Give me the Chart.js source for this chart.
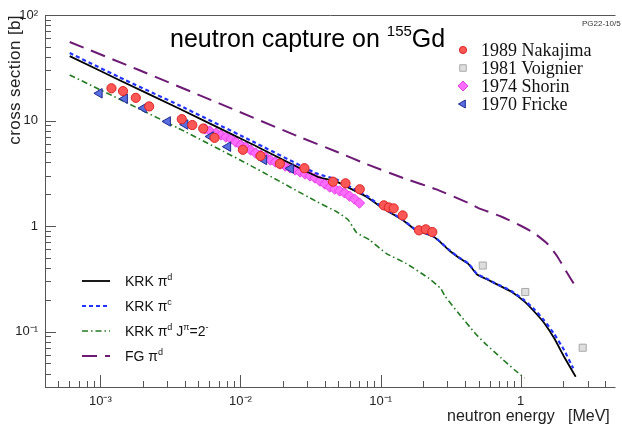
<!DOCTYPE html>
<html>
<head>
<meta charset="utf-8">
<script src="https://cdn.jsdelivr.net/npm/chart.js@4.4.0/dist/chart.umd.min.js"></script>
<style>
  body { margin: 0; background: #fff; }
  #wrap { position: relative; width: 622px; height: 428px; overflow: hidden; background: #fff; }
  #wrap canvas { position: absolute; left: 0; top: 0; }
  .lbl { position: absolute; white-space: nowrap; color: #000; font-family: 'Liberation Sans', Arial, sans-serif; }
  .serif { font-family: 'Liberation Serif', 'Times New Roman', serif; font-size: 18px; line-height: 18px; color: #111; }
  .leg { font-size: 14px; line-height: 14px; color: #111; }
  .leg sup { font-size: 9px; vertical-align: 6px; line-height: 0; }
</style>
</head>
<body>
<div id="wrap">
  <canvas id="chart" width="622" height="428"></canvas>
  <div class="lbl" style="left:170px; top:26px; font-size:25px; line-height:25px;">neutron capture on <span style="font-size:15px; position:relative; top:-11px;">155</span>Gd</div>
  <div class="lbl" style="left:582px; top:20px; font-size:8px; line-height:8px; color:#333;">PG22-10/5</div>

  <div class="lbl serif" style="left:481px; top:41px;">1989 Nakajima</div>
  <div class="lbl serif" style="left:481px; top:59px;">1981 Voignier</div>
  <div class="lbl serif" style="left:481px; top:77px;">1974 Shorin</div>
  <div class="lbl serif" style="left:481px; top:95px;">1970 Fricke</div>

  <div class="lbl leg" style="left:125px; top:274px;">KRK &pi;<sup>d</sup></div>
  <div class="lbl leg" style="left:125px; top:299px;">KRK &pi;<sup>c</sup></div>
  <div class="lbl leg" style="left:125px; top:324px;">KRK &pi;<sup>d</sup> J<sup>&pi;</sup>=2<sup>-</sup></div>
  <div class="lbl leg" style="left:125px; top:349px;">FG &pi;<sup>d</sup></div>

  <div class="lbl" style="left:447px; top:408px; font-size:16px; line-height:16px; color:#222;">neutron energy</div>
  <div class="lbl" style="left:568px; top:408px; font-size:16px; line-height:16px; color:#222;">[MeV]</div>
  <div class="lbl" style="left:6px; top:160px; width:145px; text-align:right; font-size:17px; line-height:17px; letter-spacing:0.4px; color:#222; transform-origin:0 0; transform:rotate(-90deg);">cross section [b]</div>
</div>
<script>
// axis ticks (decades only get labels)
const xTicks = [1e-3, 1e-2, 1e-1, 1];
const yTicks = [0.1, 1, 10, 100];

// KRK pi^d (solid black)
const krkDE = [6.04e-4, 1.36e-3, 3.61e-3, 0.01126, 0.0351, 0.0486, 0.0572, 0.0791, 0.1038, 0.1437, 0.178, 0.234, 0.260, 0.306, 0.360, 0.424, 0.488, 0.587, 0.654, 0.858, 1.065, 1.253, 1.475, 1.735, 2.04, 2.47];
const krkDS = [40.8, 24.2, 13.05, 6.25, 2.945, 2.63, 2.36, 1.90, 1.47, 1.14, 0.916, 0.804, 0.726, 0.592, 0.503, 0.436, 0.347, 0.308, 0.286, 0.238, 0.192, 0.154, 0.120, 0.0862, 0.0577, 0.0373];

// KRK pi^c (blue dashed)
const krkCE = [6.04e-4, 1.36e-3, 3.61e-3, 0.01126, 0.0351, 0.0486, 0.0572, 0.0791, 0.1038, 0.1437, 0.178, 0.234, 0.260, 0.306, 0.360, 0.424, 0.488, 0.587, 0.654, 0.858, 1.065, 1.253, 1.475, 1.735, 2.04, 2.37];
const krkCS = [43.6, 25.8, 14.03, 6.68, 3.145, 2.76, 2.447, 1.946, 1.497, 1.152, 0.926, 0.813, 0.729, 0.599, 0.508, 0.441, 0.351, 0.311, 0.288, 0.242, 0.197, 0.162, 0.127, 0.0946, 0.0668, 0.0448];

// KRK pi^d, J^pi = 2^- only (green dash-dot)
const krkJE = [6.04e-4, 1.36e-3, 3.61e-3, 0.01126, 0.0351, 0.0486, 0.0588, 0.0673, 0.0835, 0.1095, 0.1516, 0.2214, 0.2677, 0.2903, 0.360, 0.473, 0.556, 0.730, 0.906, 1.065];
const krkJS = [27.0, 16.0, 8.44, 3.87, 1.70, 1.366, 1.14, 0.868, 0.737, 0.551, 0.443, 0.319, 0.257, 0.214, 0.149, 0.0962, 0.0773, 0.0557, 0.0432, 0.0362];

// FG pi^d (purple long dash)
const fgE = [6.04e-4, 1.885e-3, 6.20e-3, 0.02537, 0.0486, 0.0791, 0.1516, 0.247, 0.424, 0.499, 0.730, 1.01, 1.253, 1.556, 1.83, 2.154, 2.48];
const fgS = [55.5, 30.1, 15.6, 7.13, 5.06, 3.87, 2.79, 2.24, 1.65, 1.48, 1.225, 1.0, 0.853, 0.675, 0.512, 0.356, 0.264];

// measurements
const nakE = [1.20e-3, 1.45e-3, 1.79e-3, 2.23e-3, 3.81e-3, 4.53e-3, 5.42e-3, 6.53e-3, 1.04e-2, 1.39e-2, 1.91e-2, 2.86e-2, 4.57e-2, 5.62e-2, 7.10e-2, 0.1055, 0.1145, 0.124, 0.1437, 0.188, 0.210, 0.234];
const nakS = [20.2, 19.0, 16.4, 13.6, 10.3, 9.06, 8.39, 6.85, 5.28, 4.61, 3.89, 3.53, 2.63, 2.54, 2.23, 1.57, 1.50, 1.47, 1.26, 0.91, 0.93, 0.877];

const voiE = [0.536, 1.078, 2.77];
const voiS = [0.422, 0.237, 0.0702];

const shoE = [5.60e-3, 6.07e-3, 6.69e-3, 7.26e-3, 7.87e-3, 8.54e-3, 9.26e-3, 1.005e-2, 1.090e-2, 1.182e-2, 1.282e-2, 1.391e-2, 1.509e-2, 1.636e-2, 1.775e-2, 1.925e-2, 2.088e-2, 2.265e-2, 2.457e-2, 2.665e-2, 2.890e-2, 3.134e-2, 3.399e-2, 3.687e-2, 4.000e-2, 4.338e-2, 4.705e-2, 5.102e-2, 5.535e-2, 6.003e-2, 6.512e-2, 7.063e-2];
const shoS = [8.31, 7.95, 7.61, 7.29, 6.98, 6.68, 6.25, 5.86, 5.61, 5.25, 4.92, 4.71, 4.51, 4.22, 4.04, 3.87, 3.70, 3.55, 3.40, 3.25, 3.11, 2.98, 2.85, 2.67, 2.50, 2.34, 2.24, 2.15, 2.06, 1.92, 1.80, 1.65];

const friE = [9.84e-4, 1.49e-3, 2.03e-3, 3.02e-3, 4.03e-3, 6.12e-3, 8.13e-3, 1.47e-2, 2.28e-2];
const friS = [18.1, 16.1, 13.1, 9.79, 9.16, 7.05, 5.65, 4.23, 3.51];

function pts(xs, ys) {
    return xs.map((x, i) => ({ x: x, y: ys[i] }));
}

function powLabel(v) {
    const n = Math.round(Math.log10(v));
    if (n === 0) return '1';
    if (n === 1) return '10';
    const sup = { '-': '\u207B', '0': '\u2070', '1': '\u00B9', '2': '\u00B2', '3': '\u00B3', '4': '\u2074' };
    return '10' + String(n).split('').map(c => sup[c]).join('');
}

// ROOT-like frame with inward ticks, plus the two legends' symbols
const rootFrame = {
    id: 'rootFrame',
    afterDraw(chart) {
        const { ctx, chartArea: a } = chart;
        const xs = chart.scales.x, ys = chart.scales.y;
        ctx.save();
        ctx.strokeStyle = '#555';
        ctx.lineWidth = 1;
        ctx.beginPath();
        ctx.moveTo(a.left + 0.5, a.bottom + 0.5);
        ctx.lineTo(a.left + 0.5, a.top + 0.5);
        ctx.lineTo(a.right, a.top + 0.5);
        ctx.moveTo(a.left, a.bottom + 0.5);
        ctx.lineTo(a.right, a.bottom + 0.5);
        for (let n = -4; n <= 0; n++) {
            for (let k = 1; k <= 9; k++) {
                const v = k * Math.pow(10, n);
                if (v < xs.min || v > xs.max) continue;
                const px = Math.round(xs.getPixelForValue(v)) + 0.5;
                ctx.moveTo(px, a.bottom);
                ctx.lineTo(px, a.bottom - (k === 1 ? 12 : 6));
            }
        }
        for (let n = -2; n <= 2; n++) {
            for (let k = 1; k <= 9; k++) {
                const v = k * Math.pow(10, n);
                if (v < ys.min || v > ys.max) continue;
                const py = Math.round(ys.getPixelForValue(v)) + 0.5;
                ctx.moveTo(a.left, py);
                ctx.lineTo(a.left + (k === 1 ? 11 : 6), py);
            }
        }
        ctx.stroke();

        // line legend (bottom left)
        const lineRows = [['KRK pi d', 281], ['KRK pi c', 306], ['KRK J2', 331], ['FG pi d', 356]];
        lineRows.forEach(([label, y]) => {
            const ds = chart.data.datasets.find(d => d.label === label);
            ctx.beginPath();
            ctx.strokeStyle = ds.borderColor;
            ctx.lineWidth = ds.borderWidth;
            ctx.setLineDash(ds.borderDash || []);
            ctx.moveTo(82, y);
            ctx.lineTo(110, y);
            ctx.stroke();
        });
        ctx.setLineDash([]);

        // marker legend (top right)
        const markRows = [['1989 Nakajima', 50, 3.6], ['1981 Voignier', 68, 4.6], ['1974 Shorin', 86, 5], ['1970 Fricke', 104, 4.6]];
        markRows.forEach(([label, y, r]) => {
            const ds = chart.data.datasets.find(d => d.label === label);
            ctx.fillStyle = ds.backgroundColor;
            ctx.strokeStyle = ds.borderColor;
            ctx.lineWidth = 1;
            if (Chart.helpers && Chart.helpers.drawPoint) {
                Chart.helpers.drawPoint(ctx, { pointStyle: ds.pointStyle, radius: r, rotation: ds.rotation || 0, borderWidth: 1 }, 463, y);
            } else {
                ctx.beginPath();
                ctx.arc(463, y, r, 0, Math.PI * 2);
                ctx.fill();
                ctx.stroke();
            }
        });
        ctx.restore();
    }
};

const curve = (label, xs, ys, color, width, dash) => ({
    label: label, data: pts(xs, ys), showLine: true, pointRadius: 0,
    borderColor: color, borderWidth: width, borderDash: dash, fill: false, tension: 0.15
});

new Chart(document.getElementById('chart'), {
    type: 'scatter',
    data: {
        datasets: [
            { label: '1989 Nakajima', data: pts(nakE, nakS), pointStyle: 'circle', pointRadius: 4.6,
              backgroundColor: '#ff5656', borderColor: '#d82424', borderWidth: 1 },
            { label: '1970 Fricke', data: pts(friE, friS), pointStyle: 'triangle', rotation: -90, pointRadius: 5.5,
              backgroundColor: '#5a6ee0', borderColor: '#1c2a90', borderWidth: 1 },
            { label: '1981 Voignier', data: pts(voiE, voiS), pointStyle: 'rect', pointRadius: 5,
              backgroundColor: '#dedede', borderColor: '#a8a8a8', borderWidth: 1 },
            curve('KRK pi c', krkCE, krkCS, '#2233ff', 2.2, [4, 3]),
            curve('KRK pi d', krkDE, krkDS, '#000000', 1.8, []),
            curve('FG pi d', fgE, fgS, '#6c1a74', 2, [15, 8]),
            curve('KRK J2', krkJE, krkJS, '#237a23', 1.6, [6, 3, 1.5, 3]),
            { label: '1974 Shorin', data: pts(shoE, shoS), pointStyle: 'rectRot', pointRadius: 5.2,
              backgroundColor: '#ff6cff', borderColor: '#e040e0', borderWidth: 1 }
        ]
    },
    options: {
        responsive: false,
        animation: false,
        layout: { padding: { top: 15, right: 0, left: 0, bottom: 0 } },
        plugins: { legend: { display: false }, tooltip: { enabled: false } },
        scales: {
            x: {
                type: 'logarithmic', min: 4.025e-4, max: 4.75,
                grid: { display: false, drawTicks: false }, border: { display: false },
                afterBuildTicks: s => { s.ticks = xTicks.map(v => ({ value: v })); },
                afterFit: s => { s.height = 41; },
                ticks: { padding: 7, color: '#222', font: { family: "'Liberation Sans', Arial, sans-serif", size: 13 },
                         autoSkip: false, maxRotation: 0, callback: v => powLabel(v) }
            },
            y: {
                type: 'logarithmic', min: 0.0298, max: 100,
                grid: { display: false, drawTicks: false }, border: { display: false },
                afterBuildTicks: s => { s.ticks = yTicks.map(v => ({ value: v })); },
                afterFit: s => { s.width = 45; },
                ticks: { padding: 7, color: '#222', font: { family: "'Liberation Sans', Arial, sans-serif", size: 13 },
                         autoSkip: false, callback: v => powLabel(v) }
            }
        }
    },
    plugins: [rootFrame]
});
</script>
</body>
</html>
